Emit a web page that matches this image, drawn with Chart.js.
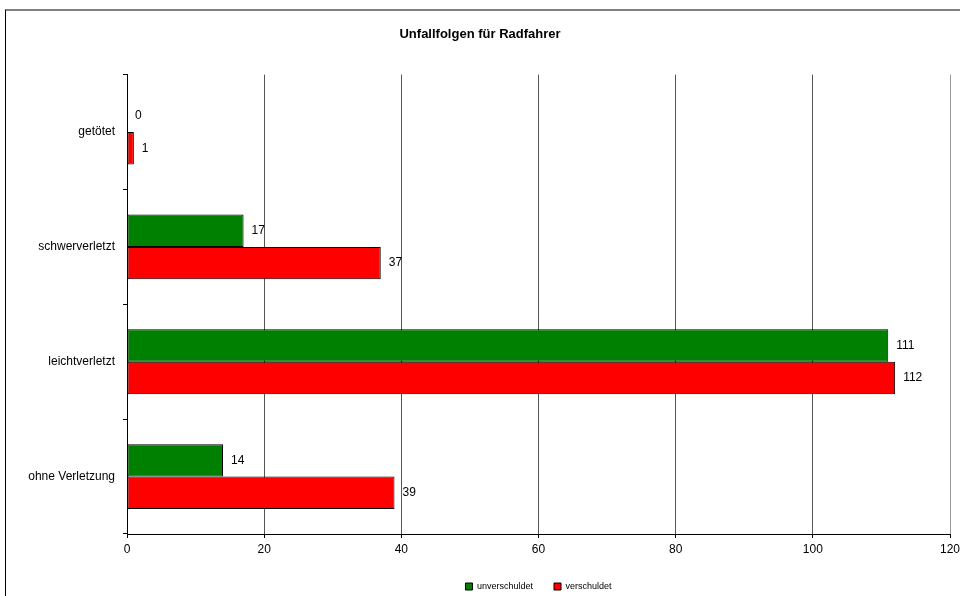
<!DOCTYPE html>
<html>
<head>
<meta charset="utf-8">
<script src="https://cdn.jsdelivr.net/npm/chart.js@4/dist/chart.umd.min.js"></script>
<style>
  html, body { margin: 0; padding: 0; background: #fff; overflow: hidden; }
  #wrap { position: relative; width: 960px; height: 596px; }
  #frame { position: absolute; left: 5px; top: 9px; width: 1000px; height: 1000px;
           border-left: 1px solid #000; border-top: 2px solid #808080; }
  canvas { position: absolute; left: 0; top: 0; }
</style>
</head>
<body>
<div id="wrap">
  <div id="frame"></div>
  <canvas id="chart" width="960" height="596"></canvas>
</div>
<script>
// ---------------- Data ----------------
const categories = ["getötet", "schwerverletzt", "leichtverletzt", "ohne Verletzung"];
const unverschuldet = [0, 17, 111, 14];
const verschuldet = [1, 37, 112, 39];
const seriesNames = ["unverschuldet", "verschuldet"];
const xTicks = [0, 20, 40, 60, 80, 100, 120];

const FONT = "'Liberation Sans', Arial, sans-serif";

// Value labels right of each bar
const valueLabels = {
  id: "valueLabels",
  afterDatasetsDraw(chart) {
    const ctx = chart.ctx;
    ctx.save();
    ctx.font = "12px " + FONT;
    ctx.fillStyle = "#000";
    ctx.textBaseline = "middle";
    ctx.textAlign = "left";
    chart.data.datasets.forEach((ds, i) => {
      chart.getDatasetMeta(i).data.forEach((bar, j) => {
        ctx.fillText(String(ds.data[j]), bar.x + 8, bar.y);
      });
    });
    ctx.restore();
  },
};

const ctx = document.getElementById("chart").getContext("2d");
new Chart(ctx, {
  type: "bar",
  data: {
    labels: categories,
    datasets: [
      {
        label: seriesNames[0],
        data: unverschuldet,
        backgroundColor: "#008000",
        borderColor: "#000",
        borderWidth: 1,
        borderSkipped: false,
      },
      {
        label: seriesNames[1],
        data: verschuldet,
        backgroundColor: "#ff0000",
        borderColor: "#000",
        borderWidth: 1,
        borderSkipped: false,
      },
    ],
  },
  options: {
    indexAxis: "y",
    responsive: false,
    animation: false,
    categoryPercentage: 0.565,
    barPercentage: 1.0,
    layout: { padding: { left: 0, right: 0, top: 10, bottom: -5 } },
    plugins: {
      title: {
        display: true,
        text: "Unfallfolgen für Radfahrer",
        color: "#000",
        font: { family: FONT, size: 13, weight: "bold" },
        padding: { top: 17, bottom: 32 },
      },
      legend: {
        position: "bottom",
        fullSize: false,
        labels: {
          color: "#000",
          font: { family: FONT, size: 9 },
          boxWidth: 7,
          boxHeight: 7,
          padding: 21,
        },
      },
      tooltip: { enabled: false },
    },
    scales: {
      x: {
        min: 0,
        max: 120,
        afterBuildTicks: (axis) => {
          axis.ticks = xTicks.map((v) => ({ value: v }));
        },
        afterFit: (axis) => {
          axis.height = 27;
          axis.paddingRight = 10;
          axis.paddingLeft = 0;
        },
        ticks: {
          color: "#000",
          font: { family: FONT, size: 12 },
          padding: 4,
          maxRotation: 0,
        },
        grid: {
          color: (c) => (c.tick && c.tick.value === 120 ? "#999" : "#555"),
          tickColor: "#000",
          tickLength: 4,
        },
        border: { color: "#000", width: 1 },
      },
      y: {
        afterFit: (axis) => {
          axis.width = 127;
        },
        ticks: {
          color: "#000",
          font: { family: FONT, size: 12 },
          padding: 8,
        },
        grid: {
          offset: true,
          drawOnChartArea: false,
          tickColor: "#000",
          tickLength: 4,
        },
        border: { color: "#000", width: 1 },
      },
    },
  },
  plugins: [valueLabels],
});
</script>
</body>
</html>
